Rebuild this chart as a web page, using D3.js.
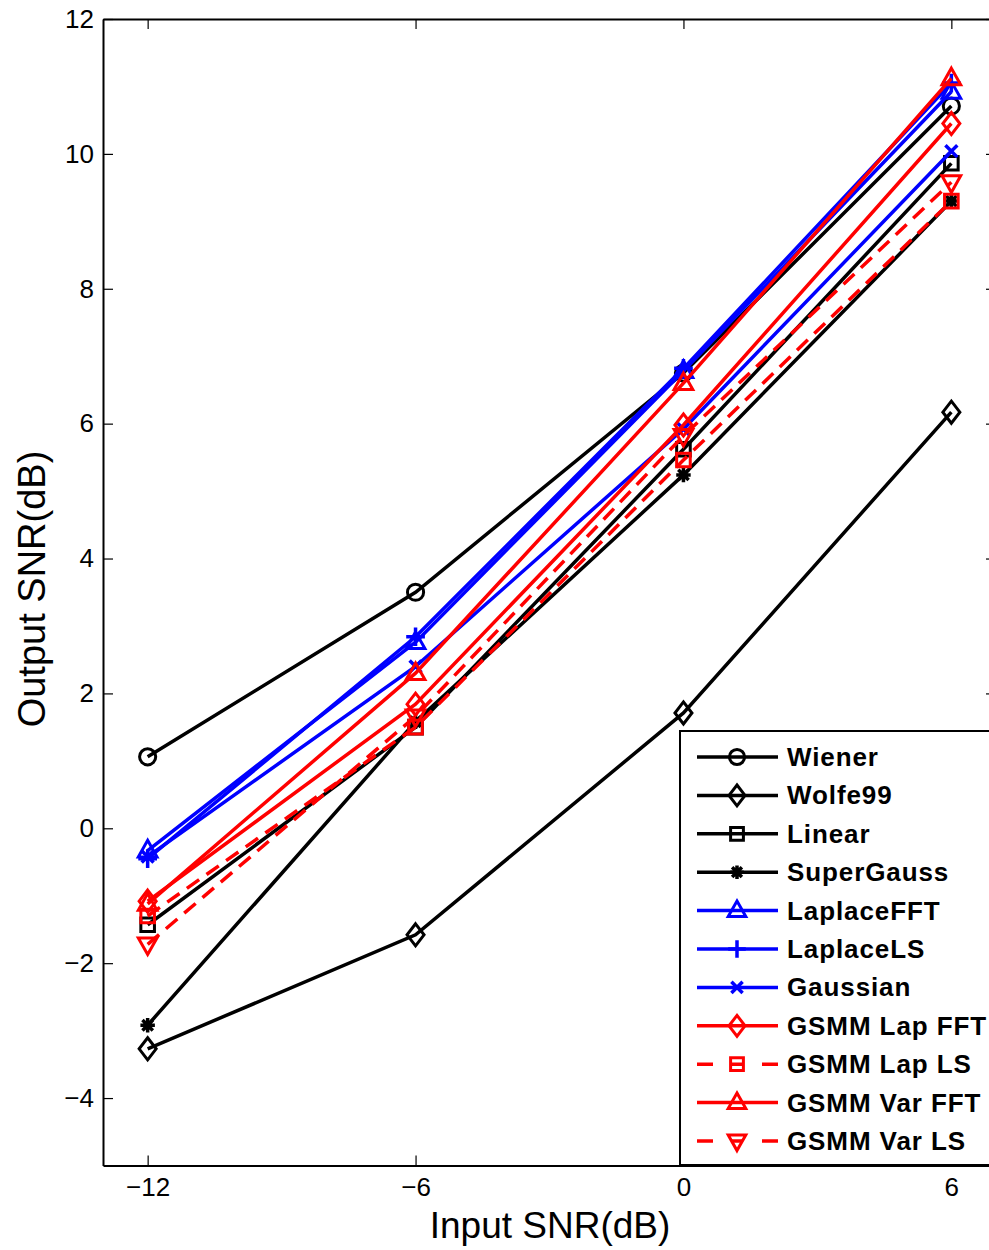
<!DOCTYPE html>
<html>
<head>
<meta charset="utf-8">
<script src="https://cdn.jsdelivr.net/npm/d3@7"></script>
<style>
  body { margin: 0; background: #fff; }
  text { font-family: "Liberation Sans", Arial, sans-serif; }
</style>
</head>
<body>
<div class="chart"></div>
<script>
var svgWidth = 989;
var svgHeight = 1250;

// data
var inputSNR = [-12, -6, 0, 6];
var seriesNames = ["Wiener", "Wolfe99", "Linear", "SuperGauss", "LaplaceFFT", "LaplaceLS",
  "Gaussian", "GSMM Lap FFT", "GSMM Lap LS", "GSMM Var FFT", "GSMM Var LS"];
var wiener = [1.06, 3.50, 6.75, 10.71];
var wolfe99 = [-3.27, -1.58, 1.71, 6.17];
var linear = [-1.43, 1.50, 5.62, 9.86];
var superGauss = [-2.92, 1.58, 5.24, 9.30];
var laplaceFFT = [-0.33, 2.76, 6.78, 10.92];
var laplaceLS = [-0.45, 2.84, 6.82, 11.05];
var gaussian = [-0.42, 2.40, 5.92, 10.04];
var gsmmLapFFT = [-1.08, 1.84, 5.98, 10.45];
var gsmmLapLS = [-1.30, 1.50, 5.46, 9.30];
var gsmmVarFFT = [-1.12, 2.30, 6.60, 11.12];
var gsmmVarLS = [-1.72, 1.66, 5.82, 9.58];

var xTicks = [-12, -6, 0, 6];
var yTicks = [-4, -2, 0, 2, 4, 6, 8, 10, 12];

var allValues = [wiener, wolfe99, linear, superGauss, laplaceFFT, laplaceLS,
  gaussian, gsmmLapFFT, gsmmLapLS, gsmmVarFFT, gsmmVarLS];
var colors = ["#000", "#000", "#000", "#000", "#00f", "#00f", "#00f", "#f00", "#f00", "#f00", "#f00"];
var markers = ["circle", "diamond", "square", "star", "triUp", "plus", "cross", "diamond", "square", "triUp", "triDown"];
var dashed = [false, false, false, false, false, false, false, false, true, false, true];

var margin = { top: 19, left: 103 };
var plotW = 893, plotH = 1146.5;

var svg = d3.select(".chart").append("svg")
  .attr("width", svgWidth)
  .attr("height", svgHeight);

var g = svg.append("g").attr("transform", `translate(${margin.left}, ${margin.top})`);

var x = d3.scaleLinear().domain([-13, 7]).range([0, plotW]);
var y = d3.scaleLinear().domain([-5, 12]).range([plotH, 0]);

var minusFmt = d => d < 0 ? "\u2212" + Math.abs(d) : d;

// box ticks (inside) on all four sides
var tickLen = 10;
g.append("g").attr("transform", `translate(0, ${plotH})`)
  .call(d3.axisBottom(x).tickValues(xTicks).tickSizeInner(-tickLen).tickSizeOuter(0).tickPadding(12).tickFormat(minusFmt));
g.append("g")
  .call(d3.axisTop(x).tickValues(xTicks).tickSizeInner(-tickLen).tickSizeOuter(0).tickFormat(""));
g.append("g")
  .call(d3.axisLeft(y).tickValues(yTicks).tickSizeInner(-tickLen).tickSizeOuter(0).tickPadding(9).tickFormat(minusFmt));
g.append("g").attr("transform", `translate(${plotW}, 0)`)
  .call(d3.axisRight(y).tickValues(yTicks).tickSizeInner(-tickLen).tickSizeOuter(0).tickFormat(""));

g.selectAll(".domain").attr("stroke", "#000").attr("stroke-width", 2);
g.selectAll(".tick line").attr("stroke", "#000").attr("stroke-width", 1.2);
g.selectAll(".tick text").attr("font-size", 26).attr("fill", "#000")
  .attr("font-family", "Liberation Sans, Arial, sans-serif");

// axis labels
svg.append("text")
  .attr("x", 550).attr("y", 1238)
  .attr("text-anchor", "middle")
  .attr("font-size", 37)
  .text("Input SNR(dB)");
svg.append("text")
  .attr("transform", "translate(45, 589) rotate(-90)")
  .attr("text-anchor", "middle")
  .attr("font-size", 38)
  .text("Output SNR(dB)");

function drawMarker(sel, type, color, s) {
  var p;
  if (type === "circle") {
    sel.append("circle").attr("r", s * 0.95).attr("fill", "none").attr("stroke", color).attr("stroke-width", 3);
  } else if (type === "diamond") {
    p = `M0,${-s * 1.3}L${s},0L0,${s * 1.3}L${-s},0Z`;
    sel.append("path").attr("d", p).attr("fill", "none").attr("stroke", color).attr("stroke-width", 3);
  } else if (type === "square") {
    p = `M${-s * 0.8},${-s * 0.8}H${s * 0.8}V${s * 0.8}H${-s * 0.8}Z`;
    sel.append("path").attr("d", p).attr("fill", "none").attr("stroke", color).attr("stroke-width", 3);
  } else if (type === "triUp") {
    p = `M0,${-s * 1.2}L${s * 1.1},${s * 0.75}L${-s * 1.1},${s * 0.75}Z`;
    sel.append("path").attr("d", p).attr("fill", "none").attr("stroke", color).attr("stroke-width", 3);
  } else if (type === "triDown") {
    p = `M0,${s * 1.2}L${s * 1.1},${-s * 0.75}L${-s * 1.1},${-s * 0.75}Z`;
    sel.append("path").attr("d", p).attr("fill", "none").attr("stroke", color).attr("stroke-width", 3);
  } else if (type === "plus") {
    p = `M0,${-s * 1.1}V${s * 1.1}M${-s * 1.1},0H${s * 1.1}`;
    sel.append("path").attr("d", p).attr("stroke", color).attr("stroke-width", 3.5);
  } else if (type === "cross") {
    p = `M${-s * 0.7},${-s * 0.7}L${s * 0.7},${s * 0.7}M${-s * 0.7},${s * 0.7}L${s * 0.7},${-s * 0.7}`;
    sel.append("path").attr("d", p).attr("stroke", color).attr("stroke-width", 3.5);
  } else if (type === "star") {
    var r = s * 0.85;
    p = `M0,${-r}V${r}M${-r},0H${r}M${-r * 0.72},${-r * 0.72}L${r * 0.72},${r * 0.72}M${-r * 0.72},${r * 0.72}L${r * 0.72},${-r * 0.72}`;
    sel.append("path").attr("d", p).attr("stroke", color).attr("stroke-width", 3.5);
  }
}

var line = d3.line().x((d, i) => x(inputSNR[i])).y(d => y(d));

var plotArea = g.append("g");
allValues.forEach(function(vals, k) {
  var grp = plotArea.append("g");
  grp.append("path")
    .datum(vals)
    .attr("d", line)
    .attr("fill", "none")
    .attr("stroke", colors[k])
    .attr("stroke-width", 3.5)
    .attr("stroke-dasharray", dashed[k] ? "15,9" : null);
  vals.forEach(function(v, i) {
    var m = grp.append("g").attr("transform", `translate(${x(inputSNR[i])}, ${y(v)})`);
    drawMarker(m, markers[k], colors[k], 8.5);
  });
});

// legend
var legend = svg.append("g");
legend.append("rect")
  .attr("x", 680).attr("y", 731)
  .attr("width", 330).attr("height", 434)
  .attr("fill", "#fff").attr("stroke", "#000").attr("stroke-width", 2);

seriesNames.forEach(function(name, k) {
  var ly = 757 + k * 38.4;
  var row = legend.append("g");
  row.append("line")
    .attr("x1", 697).attr("x2", 778)
    .attr("y1", ly).attr("y2", ly)
    .attr("stroke", colors[k]).attr("stroke-width", 3.5)
    .attr("stroke-dasharray", dashed[k] ? "16,18,12,19,16" : null);
  var m = row.append("g").attr("transform", `translate(737, ${ly})`);
  drawMarker(m, markers[k], colors[k], 8);
  row.append("text")
    .attr("x", 787).attr("y", ly + 9)
    .attr("font-size", 26).attr("font-weight", "bold")
    .attr("letter-spacing", 0.9)
    .text(name);
});
</script>
</body>
</html>
